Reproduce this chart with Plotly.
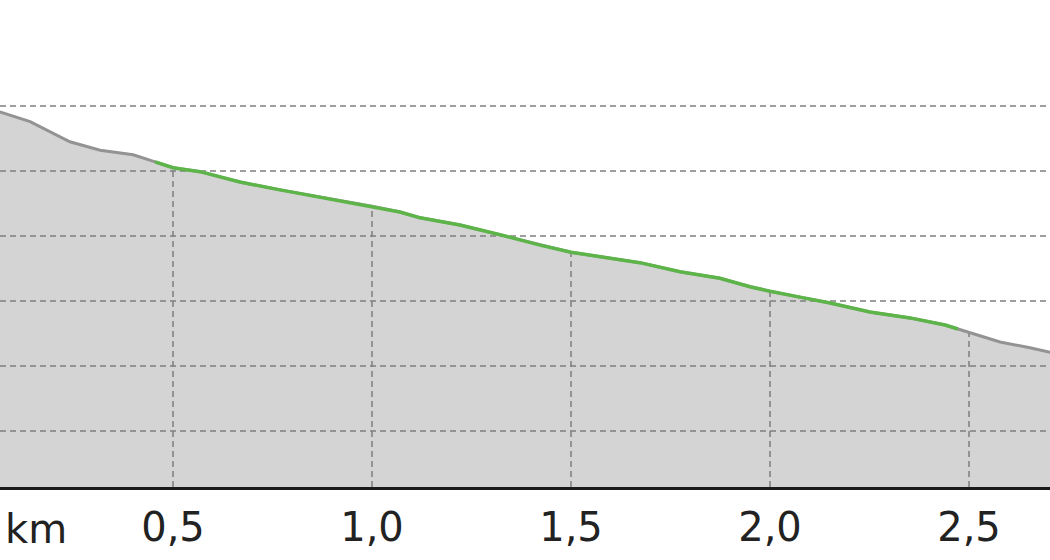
import numpy as np
import plotly.graph_objects as go

# elevation profile (distance in km, elevation in m)
dist = [0.0, 0.065, 0.141, 0.241, 0.317, 0.400, 0.455, 0.500, 0.568, 0.668, 0.769,
        0.869, 0.945, 1.000, 1.070, 1.121, 1.221, 1.322, 1.422, 1.500, 1.573,
        1.673, 1.774, 1.874, 1.950, 2.000, 2.075, 2.151, 2.251, 2.352, 2.440,
        2.472, 2.500, 2.578, 2.653, 2.704, 2.720]
elev = [209.9, 209.1, 207.6, 204.5, 203.2, 202.5, 201.4, 200.5, 199.9, 198.3, 197.1,
        196.0, 195.1, 194.6, 193.7, 192.8, 191.7, 190.2, 188.6, 187.5, 186.8,
        185.9, 184.5, 183.5, 182.2, 181.5, 180.6, 179.7, 178.3, 177.4, 176.3,
        175.7, 175.2, 173.7, 172.8, 172.2, 171.9]

# highlighted section of the route
seg_start = 0.455
seg_end = 2.472

x_ticks = [0.5, 1.0, 1.5, 2.0, 2.5]
grid_elev = [160, 170, 180, 190, 200, 210]

x_range = [0.0653, 2.7035]
y_range = [151.385, 226.31]

GRID = '#7f7f7f'
dist = np.array(dist)
elev = np.array(elev)

fig = go.Figure()

# filled area under the profile
fig.add_trace(go.Scatter(
    x=dist, y=elev, mode='lines', fill='tozeroy',
    fillcolor='#d4d4d4', line=dict(width=0),
    showlegend=False, hoverinfo='skip'
))

# horizontal dashed grid, above the fill
for g in grid_elev:
    fig.add_trace(go.Scatter(
        x=x_range, y=[g, g], mode='lines',
        line=dict(color=GRID, width=1.5, dash='6px,4px'),
        showlegend=False, hoverinfo='skip'
    ))

# vertical dashed lines from axis up to the profile
for t in x_ticks:
    fig.add_trace(go.Scatter(
        x=[t, t], y=[y_range[0], float(np.interp(t, dist, elev))], mode='lines',
        line=dict(color=GRID, width=1.5, dash='6px,4px'),
        showlegend=False, hoverinfo='skip'
    ))

# full profile line (grey)
fig.add_trace(go.Scatter(
    x=dist, y=elev, mode='lines',
    line=dict(color='#939393', width=3),
    showlegend=False
))

# highlighted section (green)
inside = (dist > seg_start) & (dist < seg_end)
seg_x = np.concatenate([[seg_start], dist[inside], [seg_end]])
seg_y = np.interp(seg_x, dist, elev)
fig.add_trace(go.Scatter(
    x=seg_x, y=seg_y, mode='lines',
    line=dict(color='#5db54a', width=3.5),
    showlegend=False
))

fig.add_annotation(
    text='km', xref='paper', yref='paper', x=0.0, y=0,
    xanchor='left', yanchor='top', xshift=3, yshift=-17,
    showarrow=False, font=dict(size=40, color='#222222', family='DejaVu Sans')
)

fig.update_layout(
    width=1050, height=560,
    margin=dict(l=0, r=0, t=0, b=73),
    plot_bgcolor='white', paper_bgcolor='white',
    separators=', ',
    font=dict(family='DejaVu Sans', color='#222222'),
    xaxis=dict(
        range=x_range, tickvals=x_ticks, tickformat='.1f',
        showgrid=False, zeroline=False,
        showline=True, linecolor='#1a1a1a', linewidth=3,
        ticks='', tickfont=dict(size=40, color='#222222'),
        ticklabelstandoff=3
    ),
    yaxis=dict(
        range=y_range, showgrid=False, zeroline=False,
        showticklabels=False, showline=False
    ),
)

# page has a default 8px body margin; drop it so the figure fills the window
fig.write_html("out.html", config={'displayModeBar': False},
               post_script="document.body.style.margin='0px';")
